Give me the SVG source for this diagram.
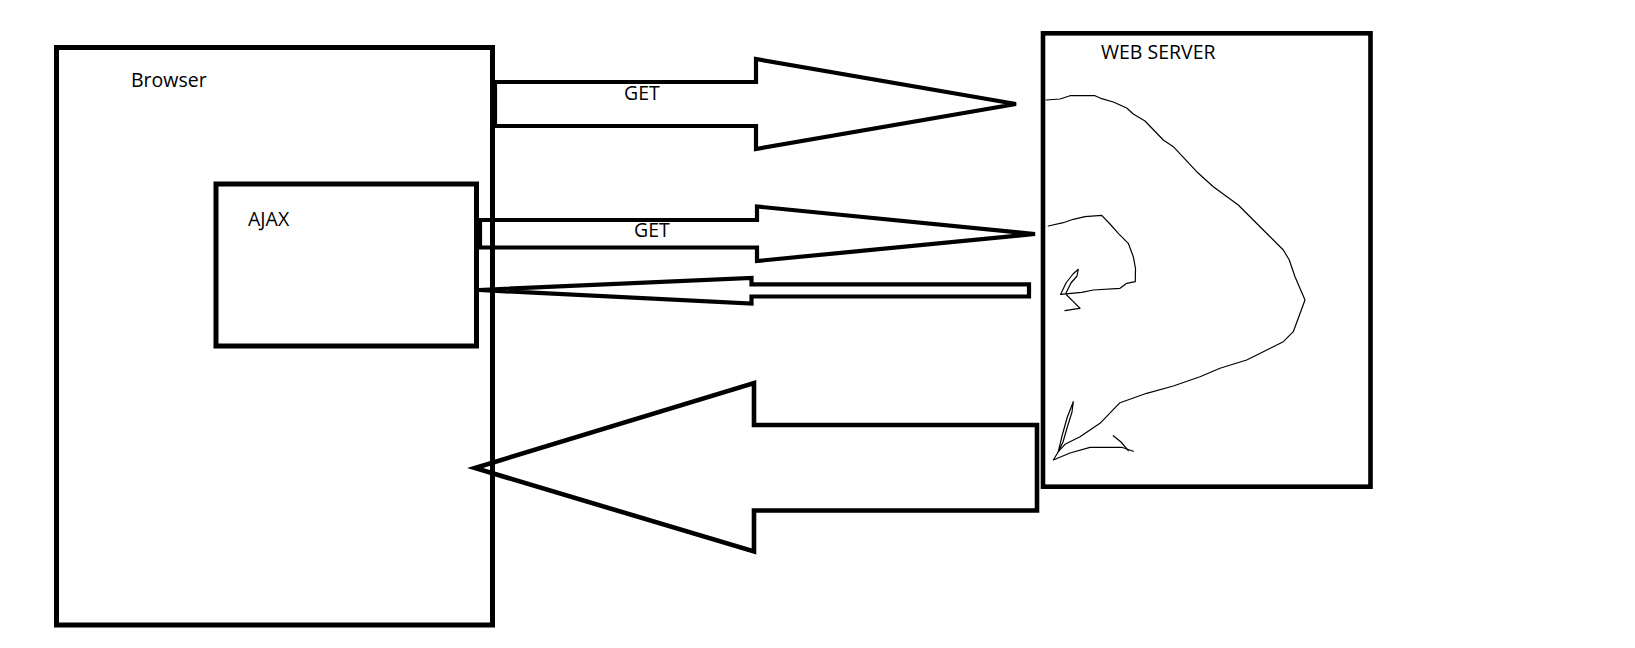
<svg xmlns="http://www.w3.org/2000/svg" width="1635" height="648" viewBox="0 0 1635 648">
<style>
.box{fill:none;stroke:#000;stroke-width:5}
.arr{fill:none;stroke:#000;stroke-width:4.2;stroke-linejoin:miter;stroke-miterlimit:4}
.pen{fill:none;stroke:#000;stroke-width:1.2;stroke-linejoin:round;stroke-linecap:round}
.lbl{font-family:"Open Sans","Noto Sans",sans-serif;font-size:19.5px;fill:#000}
</style>
<rect width="1635" height="648" fill="#fff"/>
<g id="browser">
<rect class="box" x="56.5" y="47.5" width="436" height="577.5"/>
<text class="lbl" x="131" y="87">Browser</text>
</g>
<g id="ajax">
<rect class="box" x="216" y="184" width="260.5" height="162"/>
<text class="lbl" x="248" y="226">AJAX</text>
</g>
<g id="webserver">
<rect class="box" x="1043" y="33.3" width="327.5" height="453.4" style="stroke-width:4.6"/>
<text class="lbl" x="1101" y="59">WEB SERVER</text>
<path class="pen" d="M1046,100 L1060,99 L1070,95.7 L1095,95.7 L1101.7,98.7 L1113.3,102 L1126.7,108 L1133.3,114 L1145,121 L1163.3,140 L1173.3,146.7 L1196.7,171.7 L1213.3,186.7 L1238.3,205 L1263.3,230 L1283.3,250 L1289.3,260 L1295,276.7 L1305,300 L1293.3,331.7 L1283.3,341.7 L1263.3,351.7 L1246.7,360 L1220,368.3 L1200,376.7 L1173.3,386 L1146.7,393.3 L1120,402.7 L1100,423.3 L1080,436.7 L1065,444.3 L1058.3,451.7"/>
<path class="pen" d="M1058.3,451.7 L1062,436 L1067,418 L1073.3,401.7 L1072,412 L1067,428 L1063,442 L1058.3,451.7 L1053.3,460 L1070,453 L1090,447.3 L1121.7,447.3 L1133.3,451.3"/>
<path class="pen" d="M1113.3,435.7 L1121,442 L1128.3,450.7"/>
<path class="pen" d="M1048.3,226 L1063.3,222.7 L1073.3,219.3 L1085,216.7 L1101.7,215.3 L1110,224 L1118.3,233.3 L1128.3,243.3 L1133.3,256.7 L1135.5,268.3 L1135.3,281.7 L1126.7,283.3 L1120,288.3 L1093.3,290 L1081.7,292.3 L1060.7,294.3"/>
<path class="pen" d="M1060.7,294.3 L1066,283 L1073,274 L1078.3,269.3 L1077,276 L1071,283 L1066,293 L1066.7,295 L1073.3,301.7 L1080,308.3 L1076,308.8 L1065,310.7"/>
</g>
<g id="connectors">
<polygon class="arr" points="495,82 756,82 756,59 1016,104 756,149 756,126 495,126"/>
<text class="lbl" x="624" y="100">GET</text>
<polygon class="arr" points="480,220 757,220 757,206.5 1035,234 757,261 757,247.5 480,247.5"/>
<text class="lbl" x="634" y="236.5">GET</text>
<polygon class="arr" points="479,290 751.5,278 751.5,284.3 1029,284.3 1029,296.5 751.5,296.5 751.5,303.5"/>
<polygon class="arr" points="475,468 754,383 754,425 1037,425 1037,510.5 754,510.5 754,551.5" style="stroke-width:4.6"/>
</g>
</svg>
